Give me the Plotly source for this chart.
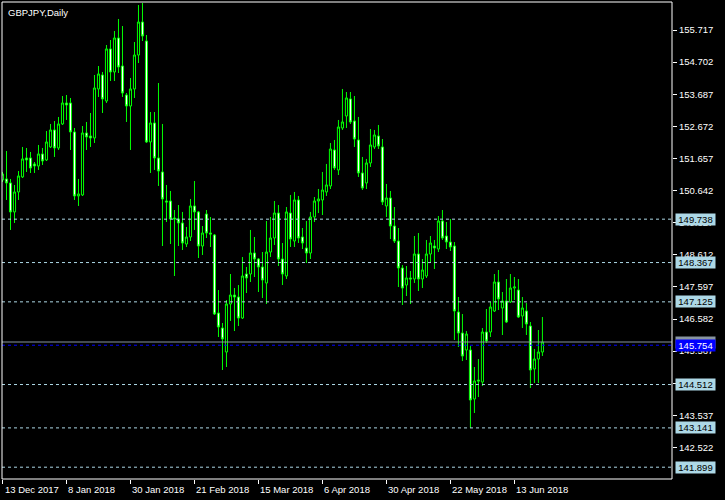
import plotly.graph_objects as go

# ---- data (GBPJPY daily) ----
open_ = [150.976, 151.009, 150.882, 149.966, 150.598, 151.072, 151.672, 151.672, 151.483, 151.419,
         151.799, 151.609, 152.020, 152.557, 151.988, 152.747, 153.410, 153.410, 152.494, 150.471,
         150.503, 152.462, 152.367, 152.304, 153.853, 154.295, 153.473, 155.117, 154.390, 155.464,
         154.579, 153.663, 153.315, 153.853, 154.927, 155.970, 155.369, 152.178, 152.778, 151.672,
         151.230, 150.312, 150.312, 149.775, 149.744, 149.618, 148.953, 149.175, 150.155, 149.966,
         148.890, 149.901, 149.301, 149.238, 146.772, 146.298, 145.540, 147.057, 147.341, 147.278,
         146.614, 148.005, 148.005, 148.669, 148.479, 148.226, 147.721, 148.700, 149.143, 149.933,
         148.479, 147.942, 149.933, 149.048, 150.345, 149.175, 148.827, 148.669, 149.807, 150.312,
         150.345, 150.598, 150.787, 151.925, 151.293, 152.620, 152.999, 153.537, 152.841, 152.241,
         151.198, 150.882, 151.514, 152.020, 152.367, 152.020, 150.155, 150.407, 149.522, 149.048,
         148.195, 147.657, 147.879, 147.847, 148.637, 147.847, 147.942, 148.637, 148.890, 148.795,
         149.680, 149.206, 149.016, 148.890, 146.804, 146.140, 145.603, 145.603, 144.054, 144.655,
         144.592, 146.172, 146.172, 146.836, 147.752, 146.931, 147.152, 147.120, 147.562, 147.499,
         146.678, 146.836, 146.361, 145.003, 145.318, 145.540]
high = [151.230, 151.893, 151.009, 150.819, 151.261, 152.020, 151.988, 151.862, 151.546, 152.083,
        151.988, 152.525, 152.747, 152.841, 152.968, 153.631, 153.663, 153.568, 152.620, 151.009,
        152.683, 152.810, 153.094, 154.295, 154.579, 154.390, 155.243, 155.401, 155.685, 156.065,
        155.843, 153.726, 154.200, 155.338, 156.507, 156.570, 155.559, 153.125, 153.125, 154.042,
        152.747, 150.819, 150.629, 150.028, 150.186, 149.966, 149.491, 150.376, 150.945, 149.996,
        149.522, 150.028, 149.807, 149.269, 147.499, 146.456, 147.183, 148.005, 147.562, 147.657,
        148.542, 148.226, 149.397, 149.175, 148.511, 148.700, 149.680, 149.807, 150.312, 150.186,
        148.985, 150.123, 150.503, 150.598, 150.471, 149.459, 149.680, 149.966, 150.439, 150.692,
        151.230, 151.483, 152.146, 152.241, 152.873, 153.853, 153.757, 153.757, 153.631, 152.968,
        151.704, 151.641, 152.588, 152.557, 152.715, 152.272, 150.850, 150.629, 150.123, 149.459,
        148.289, 148.258, 148.100, 149.206, 149.301, 148.479, 149.080, 149.206, 149.080, 149.838,
        150.028, 149.649, 149.744, 149.016, 147.278, 146.741, 146.203, 145.729, 145.066, 145.318,
        146.298, 146.899, 147.120, 148.005, 148.132, 147.436, 147.847, 148.005, 147.910, 147.847,
        147.278, 147.089, 146.488, 145.635, 146.235, 146.646]
low = [150.913, 150.345, 149.397, 149.618, 150.345, 151.040, 151.230, 151.198, 151.198, 151.293,
       151.451, 151.577, 151.988, 151.704, 151.925, 152.715, 152.873, 151.925, 150.345, 150.155,
       150.471, 151.925, 152.020, 152.146, 153.600, 153.094, 153.410, 154.105, 154.105, 154.358,
       153.600, 152.810, 151.925, 153.568, 154.674, 155.369, 152.146, 151.198, 151.293, 150.787,
       148.890, 149.649, 148.953, 147.942, 148.890, 148.764, 148.859, 149.048, 149.397, 148.511,
       148.606, 149.143, 148.859, 146.709, 146.014, 144.971, 145.066, 146.520, 146.203, 146.361,
       146.583, 147.404, 147.752, 147.910, 147.436, 147.246, 147.057, 148.542, 148.922, 148.258,
       147.657, 147.847, 148.859, 148.859, 148.985, 148.795, 148.353, 148.479, 149.649, 149.933,
       149.870, 150.471, 150.692, 151.293, 151.134, 152.557, 152.620, 152.747, 152.020, 151.072,
       150.660, 150.692, 151.388, 151.956, 151.956, 150.186, 149.807, 149.111, 148.985, 147.594,
       147.025, 147.310, 147.057, 147.721, 147.468, 147.562, 147.879, 148.384, 148.163, 148.700,
       149.080, 148.795, 148.732, 145.919, 145.698, 145.255, 145.287, 143.141, 143.612, 144.117,
       144.465, 145.824, 146.014, 146.804, 146.867, 146.077, 146.456, 147.089, 147.183, 146.614,
       146.298, 146.077, 144.402, 144.560, 144.560, 145.414]
close = [151.166, 150.882, 149.966, 150.598, 151.103, 151.641, 151.609, 151.356, 151.419, 151.799,
         151.577, 152.178, 152.557, 151.988, 152.747, 153.410, 153.347, 152.494, 150.471, 150.535,
         152.462, 152.336, 152.304, 153.884, 154.327, 153.537, 155.117, 154.390, 155.464, 154.548,
         153.726, 153.315, 153.853, 154.927, 155.970, 155.527, 152.178, 152.778, 151.672, 151.261,
         150.376, 150.281, 149.744, 149.744, 149.618, 148.985, 149.175, 150.155, 149.966, 148.890,
         149.301, 149.301, 149.269, 146.741, 146.330, 145.951, 147.057, 147.341, 147.278, 146.614,
         147.942, 147.879, 148.669, 148.479, 148.226, 147.815, 148.700, 149.143, 149.933, 148.479,
         148.005, 149.966, 149.111, 150.345, 149.143, 148.985, 148.669, 149.807, 150.312, 150.376,
         150.660, 150.819, 151.956, 151.356, 152.651, 152.810, 153.568, 152.810, 152.272, 151.198,
         150.723, 151.514, 152.083, 152.399, 152.051, 150.281, 150.407, 149.522, 149.048, 148.195,
         147.562, 147.879, 147.847, 148.637, 147.847, 148.132, 148.637, 148.985, 148.827, 149.680,
         149.143, 149.016, 148.859, 146.836, 146.140, 145.413, 146.109, 144.023, 144.623, 144.623,
         146.172, 145.887, 146.962, 147.752, 147.215, 147.152, 146.488, 147.562, 147.594, 146.647,
         146.931, 146.425, 144.971, 145.318, 145.540, 145.856]

date_tick_index = [0, 16, 32, 48, 64, 80, 96, 112, 128]
date_tick_labels = ["13 Dec 2017", "8 Jan 2018", "30 Jan 2018", "21 Feb 2018", "15 Mar 2018",
                    "6 Apr 2018", "30 Apr 2018", "22 May 2018", "13 Jun 2018"]
price_ticks = [155.717, 154.702, 153.687, 152.672, 151.657, 150.642, 149.627,
               148.612, 147.597, 146.582, 145.567, 144.552, 143.537, 142.522]
level_lines = [149.738, 148.367, 147.125, 144.512, 143.141, 141.899]
bid_price = 145.856
blue_level = 145.754
title_text = "GBPJPY,Daily"

FONT = "Liberation Sans, Arial, sans-serif"
FSIZE = 9.5
BULL_LINE = "#00FF00"
LEVEL_COLOR = "#ADD8E6"

idx = list(range(len(open_)))

fig = go.Figure()
fig.add_trace(go.Candlestick(
    x=idx, open=open_, high=high, low=low, close=close,
    increasing=dict(line=dict(color=BULL_LINE, width=1), fillcolor="#000000"),
    decreasing=dict(line=dict(color=BULL_LINE, width=1), fillcolor="#FFFFFF"),
    whiskerwidth=0, hoverinfo="skip", showlegend=False,
))

shapes = []
for lv in level_lines:
    shapes.append(dict(type="line", xref="paper", x0=0, x1=1, yref="y", y0=lv, y1=lv,
                       line=dict(color=LEVEL_COLOR, width=1, dash="3px,3px")))
shapes.append(dict(type="line", xref="paper", x0=0, x1=1, yref="y", y0=bid_price, y1=bid_price,
                   line=dict(color="#8895A0", width=1)))
shapes.append(dict(type="line", xref="paper", x0=0, x1=1, yref="y", y0=blue_level, y1=blue_level,
                   line=dict(color="#0000FF", width=1, dash="3px,3px")))
# chart frame
shapes.append(dict(type="rect", xref="paper", yref="paper", x0=0, x1=1, y0=0, y1=1,
                   line=dict(color="#FFFFFF", width=1)))

annotations = []
for lv in level_lines:
    annotations.append(dict(text=f"{lv:.3f}", xref="paper", x=1, xanchor="left", xshift=3,
                            yref="y", y=lv, yanchor="middle", showarrow=False,
                            bgcolor=LEVEL_COLOR, width=39, height=11, borderpad=0,
                            font=dict(family=FONT, size=FSIZE, color="#000000")))
annotations.append(dict(text=f"{bid_price:.3f}", xref="paper", x=1, xanchor="left", xshift=3,
                        yref="y", y=bid_price, yanchor="middle", showarrow=False,
                        bgcolor="#8895A0", width=39, height=11, borderpad=0,
                        font=dict(family=FONT, size=FSIZE, color="#FFFFFF")))
annotations.append(dict(text=f"{blue_level:.3f}", xref="paper", x=1, xanchor="left", xshift=3,
                        yref="y", y=blue_level, yanchor="middle", showarrow=False,
                        bgcolor="#0000FF", width=39, height=11, borderpad=0,
                        font=dict(family=FONT, size=FSIZE, color="#FFFFFF")))
for k, lab in zip(date_tick_index, date_tick_labels):
    annotations.append(dict(text=lab, xref="x", x=k, xanchor="left", xshift=0,
                            yref="paper", y=0, yanchor="top", yshift=-3, showarrow=False,
                            font=dict(family=FONT, size=FSIZE, color="#FFFFFF")))
annotations.append(dict(text=title_text, xref="paper", x=0, xanchor="left", xshift=4,
                        yref="paper", y=1, yanchor="top", yshift=-3, showarrow=False,
                        font=dict(family=FONT, size=FSIZE, color="#FFFFFF")))

fig.update_layout(
    template="none",
    width=725, height=500,
    margin=dict(l=2, r=53, t=2, b=21, pad=0),
    paper_bgcolor="#000000", plot_bgcolor="#000000",
    boxgap=0.25,
    shapes=shapes, annotations=annotations,
    showlegend=False,
    xaxis=dict(range=[-0.125, 167.4], rangeslider=dict(visible=False), showgrid=False,
               zeroline=False, showline=False, tickmode="array", tickvals=date_tick_index,
               showticklabels=False, ticks="outside", ticklen=4, tickcolor="#FFFFFF",
               automargin=False, fixedrange=True),
    yaxis=dict(range=[141.526, 156.602], side="right", showgrid=False, zeroline=False,
               showline=False, tickmode="array", tickvals=price_ticks,
               ticktext=[f"{v:.3f}" for v in price_ticks], ticks="outside", ticklen=4,
               tickcolor="#FFFFFF", tickfont=dict(family=FONT, size=FSIZE, color="#FFFFFF"),
               automargin=False, fixedrange=True),
)

fig.write_html("out.html", config={"displayModeBar": False},
               post_script="document.body.style.margin='0px';document.body.style.background='#000';")
